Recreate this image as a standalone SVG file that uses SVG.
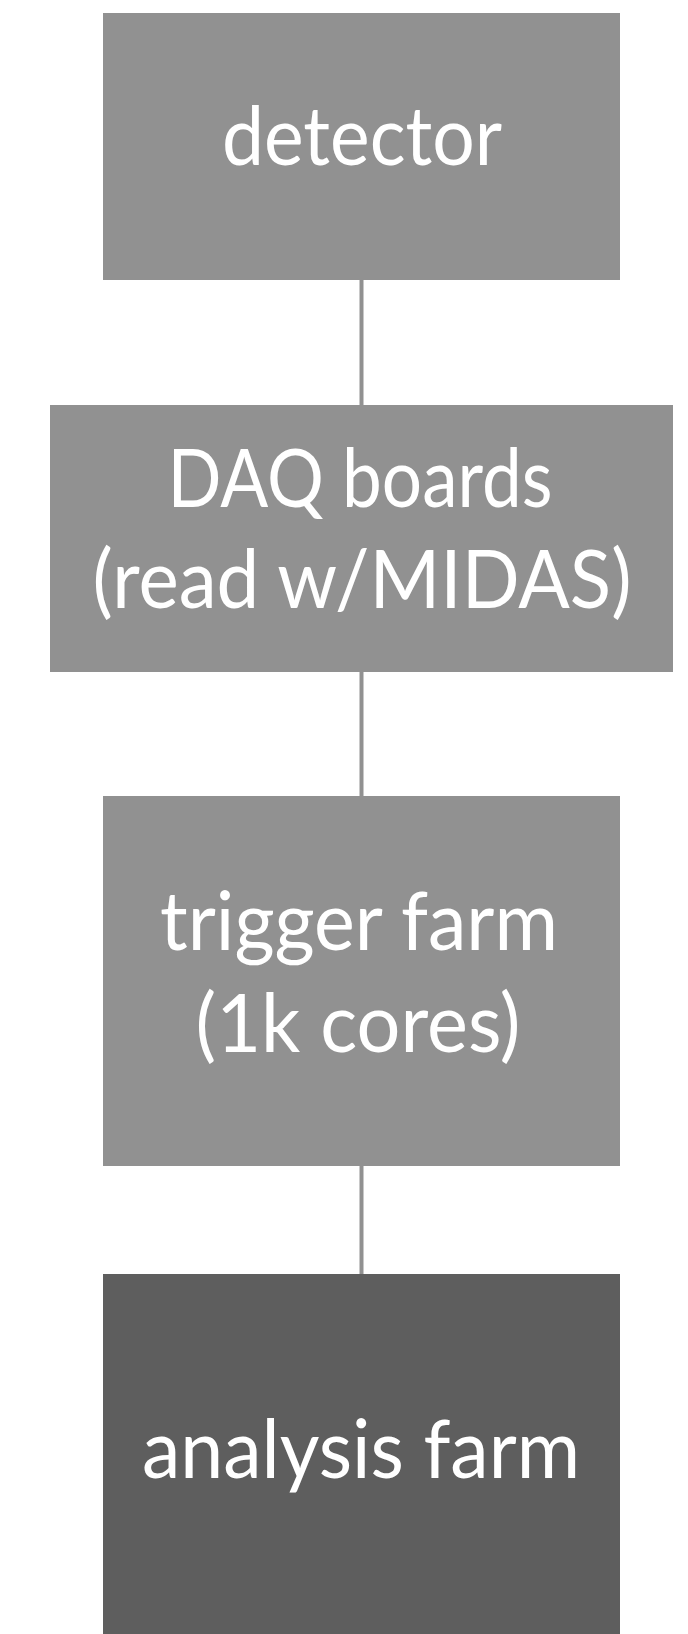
<svg xmlns="http://www.w3.org/2000/svg" width="688" height="1634" viewBox="0 0 688 1634">
<style>
.box{fill:#919191}
.dark{fill:#5e5e5e}
.lbl{font-family:Lato,"Open Sans","DejaVu Sans",sans-serif;font-size:82px;font-weight:400;fill:#ffffff;text-anchor:middle}
.conn{stroke:#919191;stroke-width:4;fill:none}
</style>
<rect width="688" height="1634" fill="#ffffff"/>
<g id="connectors">
<line class="conn" x1="361.5" y1="280" x2="361.5" y2="405"/>
<line class="conn" x1="361.5" y1="672" x2="361.5" y2="796"/>
<line class="conn" x1="361.5" y1="1166" x2="361.5" y2="1274"/>
</g>
<g id="detector">
<rect class="box" x="103" y="13" width="517" height="267"/>
<text class="lbl" x="362" y="165" textLength="280" lengthAdjust="spacingAndGlyphs">detector</text>
</g>
<g id="daq">
<rect class="box" x="50" y="405" width="623" height="267"/>
<text class="lbl" x="360" y="507" textLength="385" lengthAdjust="spacingAndGlyphs">DAQ boards</text>
<text class="lbl" x="362" y="608" textLength="539" lengthAdjust="spacingAndGlyphs">(read w/MIDAS)</text>
</g>
<g id="trigger">
<rect class="box" x="103" y="796" width="517" height="370"/>
<text class="lbl" x="359" y="950" textLength="398" lengthAdjust="spacingAndGlyphs">trigger farm</text>
<text class="lbl" x="358" y="1052" textLength="325" lengthAdjust="spacingAndGlyphs">(1k cores)</text>
</g>
<g id="analysis">
<rect class="dark" x="103" y="1274" width="517" height="360"/>
<text class="lbl" x="361" y="1478" textLength="438" lengthAdjust="spacingAndGlyphs">analysis farm</text>
</g>
</svg>
